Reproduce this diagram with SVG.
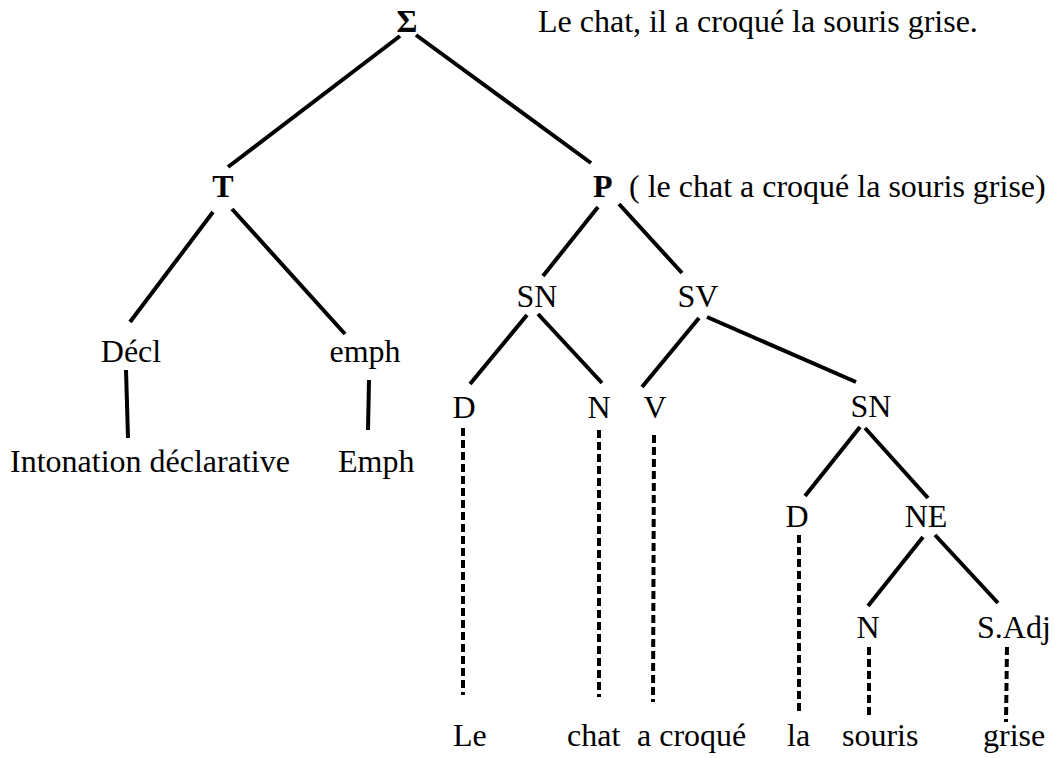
<svg xmlns="http://www.w3.org/2000/svg" width="1055" height="758" viewBox="0 0 1055 758">
<style>
text{font-family:"Liberation Serif","Times New Roman",serif;font-size:32px;fill:#000}
.b{font-weight:bold}
.m{text-anchor:middle}
.s{stroke:#000;stroke-width:4;fill:none}
.d{stroke:#000;stroke-width:4;fill:none;stroke-dasharray:8 4}
</style>
<rect width="1055" height="758" fill="#fff"/>
<g id="connectors">
<line class="s" x1="400" y1="36" x2="228" y2="167"/>
<line class="s" x1="416" y1="35" x2="591" y2="163"/>
<line class="s" x1="213" y1="212" x2="130" y2="322"/>
<line class="s" x1="232" y1="209" x2="345" y2="334"/>
<line class="s" x1="126" y1="370" x2="128" y2="438"/>
<line class="s" x1="369" y1="380" x2="368" y2="430"/>
<line class="s" x1="598" y1="207" x2="543" y2="276"/>
<line class="s" x1="619" y1="204" x2="682" y2="273"/>
<line class="s" x1="527" y1="315" x2="470" y2="384"/>
<line class="s" x1="538" y1="314" x2="602" y2="383"/>
<line class="s" x1="699" y1="318" x2="642" y2="387"/>
<line class="s" x1="707" y1="317" x2="856" y2="382"/>
<line class="s" x1="860" y1="427" x2="805" y2="496"/>
<line class="s" x1="865" y1="428" x2="928" y2="498"/>
<line class="s" x1="923" y1="537" x2="868" y2="606"/>
<line class="s" x1="935" y1="535" x2="998" y2="603"/>
<line class="d" x1="463" y1="428" x2="463" y2="695"/>
<line class="d" x1="599" y1="430" x2="599" y2="697"/>
<line class="d" x1="654" y1="435" x2="653" y2="702"/>
<line class="d" x1="799" y1="535" x2="799" y2="713"/>
<line class="d" x1="869" y1="647" x2="869" y2="715"/>
<line class="d" x1="1007" y1="647" x2="1006" y2="722"/>
</g>
<g id="sigma"><text class="b m" x="407" y="32">Σ</text></g>
<g id="sentence"><text x="538" y="32">Le chat, il a croqué la souris grise.</text></g>
<g id="T"><text class="b m" x="223" y="197">T</text></g>
<g id="P"><text class="b" x="593" y="197">P</text><text x="629" y="197">( le chat a croqué la souris grise)</text></g>
<g id="decl"><text class="m" x="131" y="362">Décl</text></g>
<g id="emph"><text class="m" x="365" y="362">emph</text></g>
<g id="SN1"><text class="m" x="537" y="307">SN</text></g>
<g id="SV"><text class="m" x="698" y="307">SV</text></g>
<g id="D1"><text class="m" x="464" y="418">D</text></g>
<g id="N1"><text class="m" x="599" y="418">N</text></g>
<g id="V"><text class="m" x="655" y="418">V</text></g>
<g id="SN2"><text class="m" x="871" y="417">SN</text></g>
<g id="intonation"><text x="10" y="472">Intonation déclarative</text></g>
<g id="Emph"><text x="338" y="472">Emph</text></g>
<g id="D2"><text class="m" x="797" y="527">D</text></g>
<g id="NE"><text class="m" x="926" y="527">NE</text></g>
<g id="N3"><text class="m" x="868" y="638">N</text></g>
<g id="SAdj"><text x="977" y="638">S.Adj</text></g>
<g id="words">
<text x="453" y="746">Le</text>
<text x="567" y="746">chat</text>
<text x="637" y="746">a croqué</text>
<text x="787" y="746">la</text>
<text x="842" y="746">souris</text>
<text x="983" y="746">grise</text>
</g>
</svg>
